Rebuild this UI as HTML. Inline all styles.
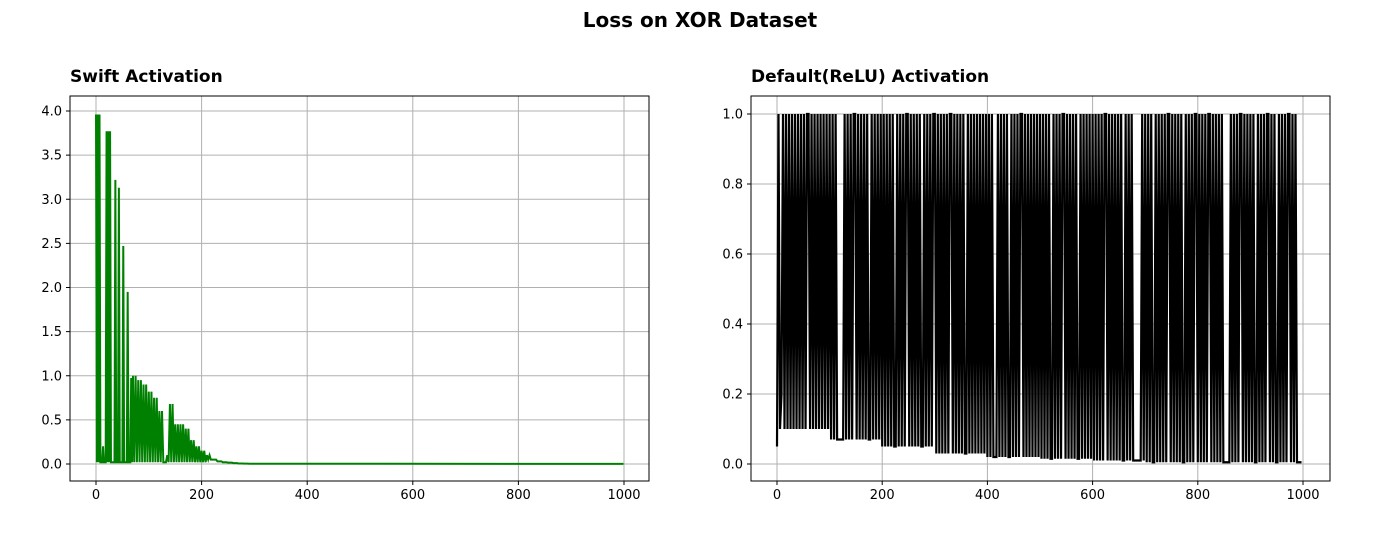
<!DOCTYPE html>
<html><head><meta charset="utf-8">
<style>
html,body{margin:0;padding:0;background:#fff;}
svg text{font-family:"DejaVu Sans","Liberation Sans",sans-serif;}
</style></head>
<body>
<svg id="fig" width="1400" height="550" viewBox="0 0 1400 550" xmlns="http://www.w3.org/2000/svg">
<text x="700" y="27" text-anchor="middle" font-size="20" font-weight="bold">Loss on XOR Dataset</text>
<text x="70" y="82" font-size="17" font-weight="bold">Swift Activation</text>
<text x="751" y="82" font-size="17" font-weight="bold">Default(ReLU) Activation</text>
<g id="left"></g>
<g id="right"></g>
</svg>
<script>
const swiftPeaks = [3.96,0.4,3.77,3.22,3.13,2.47,1.95,1.0,0.95,0.9,
0.82,0.75,0.6,0.2,0.68,0.45,0.45,0.4,0.27,0.2,
0.15,0.1,0.05,0.03,0.02,0.015,0.01,0.005,0.004,0.003];
const swiftPattern = ["HLHLHL","LLMLLL","HLHLHL","LLLLHL","LLHLLL","LHLLLL","HLLLML","HLHL","HLHL","HLHL",
"HLHL","HLHL","HLHL","LLML","HLHL","HLHL","HLHL","HLHL","HLHL","HLHL",
"HLHL","HMHM","HHHH","HHHH","HHHH","HHHH","HHHH","HHHH","HHHH","HHHH"];
const swiftLow = 0.02;
const swiftTail = [[999,0.001]];
const swiftXTicks = [0,200,400,600,800,1000];
const swiftYTicks = [0,0.5,1,1.5,2,2.5,3,3.5,4];

const reluChunks = [
"1HL4HLHLHLHLHLHLHLHLHHLHLHLHLHLHLHL",
"HLHLHLLLLLHLHLHLHHLHLHLHLHLLHLHLHLH",
"LHLHLHLHLLHLHLHLHHLHLHLHLHLLHLHLHLH",
"HLHLHLHLHLHHLHLHLHLHLLHLHLHLHLHLHLH",
"LHLHLLLHLHLHLHLLHLHLHLHHLHLHLHLHLHL",
"HLHLHLHLLHLHLHLHHLHLHLHLHLLHLHLHLHL",
"HLHLHLHLHHLHLHLHLHLHLLHLHLHLLLLLLHL",
"HLHLHLLHLHLHLHLHHLHLHLHLHLLHLHLHLHH",
"LHLHLHLHHLHLHLHLHLLLLLHLHLHLHHLHLHL",
"HLHLLHLHLHLHHLHLHLLHLHLHLHHLHLHLLLL"];
const reluLows = [0.1,0.07,0.05,0.03,0.02,0.015,0.01,0.005,0.005,0.005];
const reluXTicks = [0,200,400,600,800,1000];
const reluYTicks = [0,0.2,0.4,0.6,0.8,1.0];

const NS="http://www.w3.org/2000/svg";
function mk(tag,attrs,parent){const e=document.createElementNS(NS,tag);for(const k in attrs)e.setAttribute(k,attrs[k]);parent.appendChild(e);return e;}

function drawChart(g,box,xdom,ydom,xt,yt,ydec,xs,ys,color,sw){
  const sx=v=>box.xr0+(v-xdom[0])/(xdom[1]-xdom[0])*(box.xr1-box.xr0);
  const sy=v=>box.yr0-(v-ydom[0])/(ydom[1]-ydom[0])*(box.yr0-box.yr1);
  xt.forEach(t=>{
    const l=mk('line',{x1:sx(t),x2:sx(t),y1:box.t,y2:box.b,stroke:'#b0b0b0','stroke-width':1},g);
    
    
    mk('line',{x1:sx(t),x2:sx(t),y1:box.b,y2:box.b+4,stroke:'#000'},g);
    const tx=mk('text',{x:sx(t),y:box.b+18,'text-anchor':'middle','font-size':13},g);
    tx.textContent=String(t);
    
    
  });
  yt.forEach(t=>{
    const l=mk('line',{x1:box.l,x2:box.r,y1:sy(t),y2:sy(t),stroke:'#b0b0b0','stroke-width':1},g);
    
    
    mk('line',{x1:box.l-4,x2:box.l,y1:sy(t),y2:sy(t),stroke:'#000'},g);
    const tx=mk('text',{x:box.l-8,y:sy(t)+4.5,'text-anchor':'end','font-size':13},g);
    tx.textContent=t.toFixed(ydec);
    
    
  });
  const pts=xs.map((x,i)=>sx(x).toFixed(2)+','+sy(ys[i]).toFixed(2)).join(' ');
  const pl=mk('polyline',{points:pts,fill:'none',stroke:color,'stroke-width':sw,'stroke-linejoin':'miter'},g);
  
  
  const fr=mk('rect',{x:box.l,y:box.t,width:box.r-box.l,height:box.b-box.t,fill:'none',stroke:'#000','stroke-width':1},g);
  
  
}

const sX=[],sY=[];
swiftPattern.forEach((p,c)=>{
  for(let j=0;j<p.length;j++){
    const ch=p[j];
    const pk=swiftPeaks[c];
    sX.push(c*10+j*10/p.length);
    sY.push(ch==='H'?pk:ch==='M'?pk*0.5:Math.min(swiftLow,pk));
  }
});
swiftTail.forEach(d=>{sX.push(d[0]);sY.push(d[1]);});

const rX=[],rY=[];
reluChunks.forEach((p,c)=>{
  for(let j=0;j<p.length;j++){
    const ch=p[j];
    rX.push(c*100+j*100/p.length);
    rY.push(ch==='H'?1:ch==='L'?reluLows[c]:(+ch)/20);
  }
});

drawChart(document.getElementById('left'),
  {l:70,r:649,t:96,b:481,xr0:96,xr1:624,yr0:464,yr1:111},
  [0,1000],[0,4],swiftXTicks,swiftYTicks,1,sX,sY,'#008000',2);

drawChart(document.getElementById('right'),
  {l:751,r:1330,t:96,b:481,xr0:777,xr1:1303,yr0:464,yr1:114},
  [0,1000],[0,1],reluXTicks,reluYTicks,1,rX,rY,'#000000',2.2);
</script>
</body></html>
